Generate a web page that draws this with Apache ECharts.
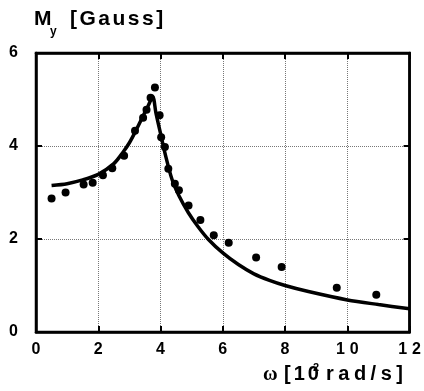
<!DOCTYPE html>
<html>
<head>
<meta charset="utf-8">
<script src="https://cdn.jsdelivr.net/npm/echarts@6/dist/echarts.min.js"></script>
<style>
  html, body { margin: 0; padding: 0; background: #fff; }
  #chart { width: 424px; height: 391px; }
</style>
</head>
<body>
<div id="chart"></div>
<script>
// measured points (omega in 10^2 rad/s, My in Gauss)
var pointsX = [0.50, 0.95, 1.53, 1.82, 2.15, 2.45, 2.83, 3.18, 3.44, 3.55, 3.68, 3.82, 3.97, 4.02, 4.14, 4.25, 4.46, 4.59, 4.90, 5.28, 5.71, 6.19, 7.07, 7.89, 9.66, 10.93];
var pointsY = [2.87, 3.00, 3.17, 3.21, 3.37, 3.52, 3.79, 4.33, 4.61, 4.78, 5.04, 5.26, 4.66, 4.19, 3.98, 3.51, 3.19, 3.05, 2.72, 2.41, 2.08, 1.92, 1.60, 1.40, 0.95, 0.80];

// theory curve
var curveX = [0.5, 1.0, 1.5, 2.0, 2.5, 2.8, 3.0, 3.2, 3.45, 3.6, 3.75, 3.85, 4.0, 4.16, 4.37, 4.6, 4.9, 5.2, 5.54, 6.0, 6.5, 7.0, 7.5, 8.0, 8.75, 10.0, 11.0, 12.0];
var curveY = [3.15, 3.19, 3.27, 3.39, 3.62, 3.87, 4.07, 4.32, 4.66, 4.86, 5.06, 4.72, 4.27, 3.80, 3.28, 2.92, 2.56, 2.27, 1.99, 1.70, 1.45, 1.25, 1.11, 1.00, 0.87, 0.69, 0.59, 0.50];

var xTicks = { min: 0, max: 12, interval: 2 };
var yTicks = { min: 0, max: 6, interval: 2 };

var FONT = '"Liberation Sans", Arial, sans-serif';

function zip(a, b) {
  var out = [];
  for (var i = 0; i < a.length; i++) out.push([a[i], b[i]]);
  return out;
}

// wrap each character in a rich-text style so letters get spread apart
function spaced(str, key) {
  return str.split('').map(function (c) { return '{' + key + '|' + c + '}'; }).join('');
}

var chart = echarts.init(document.getElementById('chart'), null, { renderer: 'canvas' });

var axisCommon = {
  type: 'value',
  axisLine: { show: true, onZero: false, lineStyle: { color: '#000', width: 2.5 } },
  axisTick: { show: true, inside: true, length: 6, lineStyle: { color: '#000', width: 2 } }
};

var option = {
  backgroundColor: '#fff',
  animation: false,
  grid: {
    left: 36, right: 11, top: 53, bottom: 59,
    show: true, borderColor: '#000', borderWidth: 2.5
  },
  xAxis: [
    Object.assign({}, axisCommon, {
      position: 'bottom',
      min: xTicks.min, max: xTicks.max, interval: xTicks.interval,
      splitLine: { show: true, lineStyle: { color: '#777', type: 'dotted', width: 1 } },
      axisLabel: {
        color: '#000', fontFamily: FONT, fontWeight: 'bold', fontSize: 16, margin: 10,
        formatter: function (v) {
          if (v >= 10) {
            var s = String(v);
            return '{a|' + s[0] + '}{b|' + s[1] + '}';
          }
          return String(v);
        },
        rich: {
          a: { color: '#000', fontFamily: FONT, fontWeight: 'bold', fontSize: 16 },
          b: { color: '#000', fontFamily: FONT, fontWeight: 'bold', fontSize: 16, padding: [0, 0, 0, 5] }
        }
      }
    }),
    Object.assign({}, axisCommon, {
      position: 'top',
      min: xTicks.min, max: xTicks.max, interval: xTicks.interval,
      splitLine: { show: false },
      axisLabel: { show: false }
    })
  ],
  yAxis: [
    Object.assign({}, axisCommon, {
      position: 'left',
      min: yTicks.min, max: yTicks.max, interval: yTicks.interval,
      splitLine: { show: true, lineStyle: { color: '#777', type: 'dotted', width: 1 } },
      axisLabel: { color: '#000', fontFamily: FONT, fontWeight: 'bold', fontSize: 16, margin: 18 }
    }),
    Object.assign({}, axisCommon, {
      position: 'right',
      min: yTicks.min, max: yTicks.max, interval: yTicks.interval,
      splitLine: { show: false },
      axisLabel: { show: false }
    })
  ],
  graphic: [
    // y axis title: M_y [Gauss]
    { type: 'text', left: 34, top: 9, style: { text: 'M', font: 'bold 21px ' + FONT, fill: '#000' } },
    { type: 'text', left: 50, top: 26, style: { text: 'y', font: 'bold 12px ' + FONT, fill: '#000' } },
    {
      type: 'text', left: 70, top: 9,
      style: {
        text: spaced('[Gauss]', 'g'),
        fill: '#000',
        rich: { g: { font: 'bold 21px ' + FONT, fill: '#000', padding: [0, 2.5, 0, 0] } }
      }
    },
    // x axis title: omega [10^2 rad/s]
    { type: 'text', left: 263, top: 365, style: { text: 'ω', font: 'bold 20px "Liberation Serif", serif', fill: '#000' } },
    {
      type: 'text', left: 284, top: 364,
      style: {
        text: spaced('[10', 'c'),
        fill: '#000',
        rich: { c: { font: 'bold 20px ' + FONT, fill: '#000', padding: [0, 3, 0, 0] } }
      }
    },
    { type: 'text', left: 313, top: 362, style: { text: '2', font: 'bold 11px ' + FONT, fill: '#000' } },
    {
      type: 'text', left: 326, top: 364,
      style: {
        text: spaced('rad/s]', 'r'),
        fill: '#000',
        rich: { r: { font: 'bold 20px ' + FONT, fill: '#000', padding: [0, 4.5, 0, 0] } }
      }
    }
  ],
  series: [
    {
      name: 'theory',
      type: 'line',
      data: zip(curveX, curveY),
      showSymbol: false,
      smooth: 0.3,
      lineStyle: { color: '#000', width: 3.5 },
      z: 2
    },
    {
      name: 'measured',
      type: 'scatter',
      data: zip(pointsX, pointsY),
      symbol: 'circle',
      symbolSize: 8,
      itemStyle: { color: '#000', opacity: 1 },
      z: 3
    }
  ]
};

chart.setOption(option);
</script>
</body>
</html>
